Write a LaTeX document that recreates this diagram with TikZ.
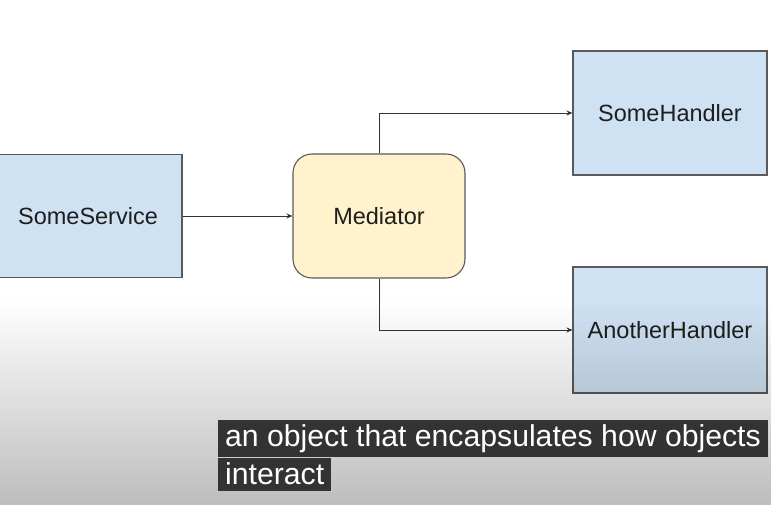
\documentclass[tikz,border=0pt]{standalone}
\usepackage{fontspec}
\setmainfont{Liberation Sans}
\usetikzlibrary{arrows.meta,fadings}
\definecolor{boxblue}{HTML}{CFE2F3}
\definecolor{boxyellow}{HTML}{FFF2CC}
\definecolor{edgegray}{HTML}{5A5A5A}
\definecolor{inkgray}{HTML}{1E1E1E}
\definecolor{capgray}{HTML}{333333}
\tikzfading[name=veil,top color=transparent!100,bottom color=transparent!0]
\tikzset{
  block/.style={draw=edgegray,line width=1.1pt,fill=boxblue,text=inkgray,
    inner sep=0pt,font=\fontsize{23.5}{27}\selectfont},
  mediatorbox/.style={block,fill=boxyellow,rounded corners=19pt},
  link/.style={draw=capgray,line width=0.9pt,-{Stealth[length=6pt,width=5pt]}},
  caption/.style={fill=capgray,text=white,inner ysep=0pt,inner xsep=7pt,
    font=\fontsize{30.2}{33}\selectfont,anchor=north west}
}
\begin{document}
\begin{tikzpicture}[x=1pt,y=-1pt]
	\useasboundingbox(0,0)rectangle(772,505);
	\clip(0,0)rectangle(772,505);
	\fill[white](0,0)rectangle(772,505);
	% boxes
	\node[block,minimum width=188pt,minimum height=123pt](service)at(88,216){SomeService};
	\node[mediatorbox,minimum width=172pt,minimum height=124pt](mediator)at(379,216){Mediator};
	\node[block,minimum width=194pt,minimum height=124pt](somehandler)at(670,113){SomeHandler};
	\node[block,minimum width=194pt,minimum height=126pt](anotherhandler)at(670,330){AnotherHandler};
	% connectors
	\draw[link](service)--(mediator);
	\draw[link](mediator.north)|-(somehandler.west);
	\draw[link](mediator.south)|-(anotherhandler.west);
	% video shade
	\fill[black,opacity=.26,path fading=veil](0,300)rectangle(772,505);
	% subtitle
	\node[caption,minimum height=37pt](subone)at(218,420){an object that encapsulates how objects};
	\node[caption,minimum height=33pt](subtwo)at(subone.south west){interact};
\end{tikzpicture}
\end{document}
